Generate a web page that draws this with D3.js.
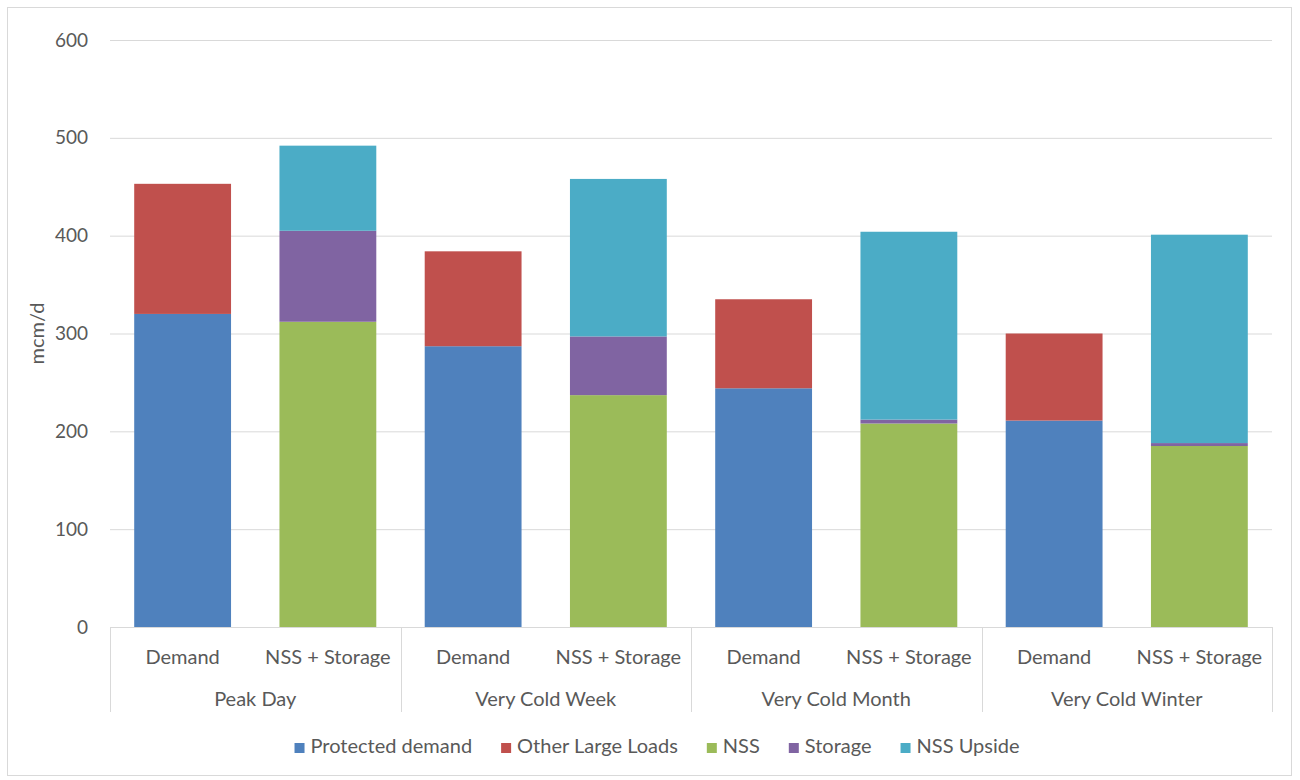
<!DOCTYPE html>
<html lang="en">
<head>
  <meta charset="UTF-8">
  <title>Gas demand vs supply</title>
  <script src="https://d3js.org/d3.v7.min.js"></script>
  <style>
    body, html { margin: 0; padding: 0; background: #fff; overflow: hidden; }
    svg text { font-family: Lato, "Open Sans", sans-serif; fill: #595959; }
    .grid line { stroke: #d9d9d9; }
  </style>
</head>
<body>
  <svg id="chart" width="1300" height="780"></svg>

  <script>
    // Data
    const groups = ['Peak Day', 'Very Cold Week', 'Very Cold Month', 'Very Cold Winter'];
    const subs = ['Demand', 'NSS + Storage'];
    const seriesNames = ['Protected demand', 'Other Large Loads', 'NSS', 'Storage', 'NSS Upside'];
    const seriesColors = ['#4F81BD', '#C0504D', '#9BBB59', '#8064A2', '#4BACC6'];
    // demand bars (one value per group)
    const protectedDemand = [320, 287, 244, 211];
    const otherLargeLoads = [133, 97, 91, 89];
    // supply bars
    const nss = [312, 237, 208, 185];
    const storage = [93, 60, 4, 3];
    const nssUpside = [87, 161, 192, 213];
    const yTicks = [0, 100, 200, 300, 400, 500, 600];

    const FS = '20px';
    const svg = d3.select('#chart');

    // chart area border
    svg.append('rect')
      .attr('x', 7.5).attr('y', 7.5)
      .attr('width', 1284).attr('height', 768)
      .attr('fill', '#fff')
      .attr('stroke', '#d9d9d9');

    const plotL = 110, plotR = 1272, plotT = 40, plotB = 627;

    const y = d3.scaleLinear().domain([0, 600]).range([plotB, plotT]);
    const xGroup = d3.scaleBand().domain(groups).range([plotL, plotR]);
    const xSub = d3.scaleBand().domain(subs).range([0, xGroup.bandwidth()])
      .paddingInner(1 / 3).paddingOuter(1 / 6);

    // rows for stacking
    const rows = [];
    groups.forEach((g, i) => {
      rows.push({ group: g, sub: subs[0],
        'Protected demand': protectedDemand[i], 'Other Large Loads': otherLargeLoads[i],
        'NSS': 0, 'Storage': 0, 'NSS Upside': 0 });
      rows.push({ group: g, sub: subs[1],
        'Protected demand': 0, 'Other Large Loads': 0,
        'NSS': nss[i], 'Storage': storage[i], 'NSS Upside': nssUpside[i] });
    });
    const stacked = d3.stack().keys(seriesNames)(rows);
    const color = d3.scaleOrdinal().domain(seriesNames).range(seriesColors);

    // gridlines + y labels
    const yAxis = svg.append('g')
      .attr('class', 'grid')
      .attr('transform', `translate(${plotL},0)`)
      .call(d3.axisLeft(y).tickValues(yTicks).tickSize(-(plotR - plotL)).tickPadding(22));
    yAxis.select('.domain').remove();
    yAxis.selectAll('.tick line').filter(d => d === 0).remove();
    yAxis.selectAll('text')
      .style('font-size', '19px')
      .style('font-family', 'Lato, sans-serif')
      .style('fill', '#595959');

    // bars
    svg.append('g').selectAll('g')
      .data(stacked)
      .join('g')
      .attr('fill', d => color(d.key))
      .selectAll('rect')
      .data(d => d.filter(s => s[1] - s[0] > 0))
      .join('rect')
      .attr('x', d => xGroup(d.data.group) + xSub(d.data.sub))
      .attr('width', xSub.bandwidth())
      .attr('y', d => y(d[1]))
      .attr('height', d => y(d[0]) - y(d[1]));

    // x axis: baseline + group separators
    const axisG = svg.append('g').attr('stroke', '#d9d9d9').attr('stroke-width', 1);
    axisG.append('line')
      .attr('x1', plotL).attr('x2', plotR)
      .attr('y1', plotB + 0.5).attr('y2', plotB + 0.5);
    const seps = groups.map(g => xGroup(g)).concat([plotR]);
    axisG.selectAll('.sep')
      .data(seps)
      .join('line')
      .attr('x1', d => Math.round(d) + 0.5).attr('x2', d => Math.round(d) + 0.5)
      .attr('y1', plotB).attr('y2', 712);

    // sub labels
    const subLabels = svg.append('g');
    groups.forEach(g => {
      subs.forEach(s => {
        subLabels.append('text')
          .attr('x', xGroup(g) + xSub(s) + xSub.bandwidth() / 2)
          .attr('y', 664)
          .attr('text-anchor', 'middle')
          .style('font-size', FS)
          .text(s);
      });
    });
    // group labels
    svg.append('g').selectAll('text')
      .data(groups)
      .join('text')
      .attr('x', d => xGroup(d) + xGroup.bandwidth() / 2)
      .attr('y', 706)
      .attr('text-anchor', 'middle')
      .style('font-size', FS)
      .text(d => d);

    // y axis title
    svg.append('text')
      .attr('transform', `translate(44,${(plotT + plotB) / 2}) rotate(-90)`)
      .attr('text-anchor', 'middle')
      .style('font-size', FS)
      .text('mcm/d');

    // legend
    const legend = svg.append('g');
    const items = legend.selectAll('g')
      .data(seriesNames)
      .join('g');
    items.append('rect')
      .attr('width', 10).attr('height', 10)
      .attr('y', -10)
      .attr('fill', d => color(d));
    items.append('text')
      .attr('x', 16)
      .attr('y', 0)
      .style('font-size', FS)
      .text(d => d);
    let lx = 0;
    items.each(function () {
      const w = this.getBBox().width;
      d3.select(this).attr('transform', `translate(${lx},0)`);
      lx += w + 29;
    });
    lx -= 29;
    legend.attr('transform', `translate(${657 - lx / 2},753)`);
  </script>
</body>
</html>
